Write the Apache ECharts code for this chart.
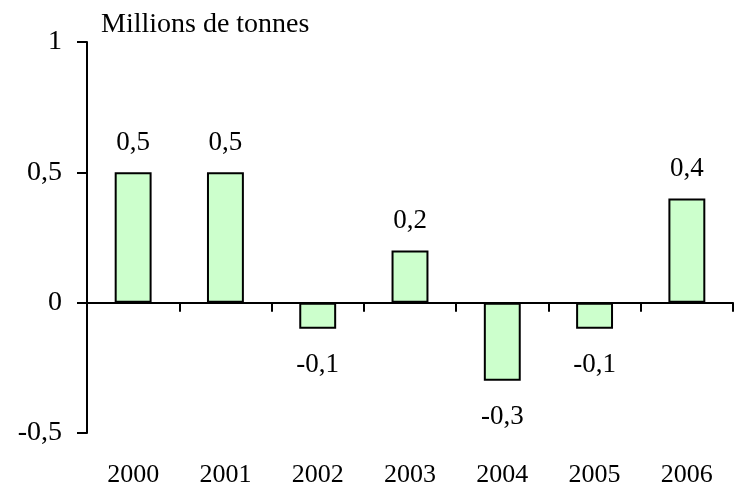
<!DOCTYPE html>
<html>
<head>
<meta charset="utf-8">
<script src="https://cdn.jsdelivr.net/npm/echarts@6/dist/echarts.min.js"></script>
<style>
  html, body { margin: 0; padding: 0; background: #fff; }
  #chart { width: 744px; height: 484px; }
</style>
</head>
<body>
<div id="chart"></div>
<script>
// données du graphique
var years = ['2000', '2001', '2002', '2003', '2004', '2005', '2006'];
var values = [0.5, 0.5, -0.1, 0.2, -0.3, -0.1, 0.4];
var yTicks = [-0.5, 0, 0.5, 1];
var unitLabel = 'Millions de tonnes';

var serif = "'Liberation Serif', 'Times New Roman', serif";

function fr(v) {
  return String(v).replace('.', ',');
}

var chart = echarts.init(document.getElementById('chart'));

var barData = values.map(function (v) {
  return {
    value: v,
    label: { position: v < 0 ? 'bottom' : 'top', distance: v < 0 ? 23 : 16 }
  };
});

chart.setOption({
  animation: false,
  title: {
    text: unitLabel,
    left: 96,
    top: 6,
    textStyle: { fontFamily: serif, fontSize: 28, fontWeight: 'normal', color: '#000' }
  },
  grid: { left: 87, right: 11, top: 42, bottom: 51, containLabel: false, outerBoundsMode: 'none' },
  xAxis: [{
    type: 'category',
    data: years,
    axisLine: { onZero: true, lineStyle: { color: '#000', width: 2 } },
    axisTick: { show: true, inside: false, length: 9, lineStyle: { color: '#000', width: 2 } },
    axisLabel: { show: false }
  }, {
    type: 'category',
    data: years,
    position: 'bottom',
    axisLine: { show: false, onZero: false },
    axisTick: { show: false },
    axisLabel: { margin: 29, fontFamily: serif, fontSize: 26, color: '#000' }
  }],
  yAxis: {
    type: 'value',
    min: yTicks[0],
    max: yTicks[yTicks.length - 1],
    interval: 0.5,
    splitLine: { show: false },
    axisLine: { show: true, lineStyle: { color: '#000', width: 2 } },
    axisTick: { show: true, length: 10, lineStyle: { color: '#000', width: 2 } },
    axisLabel: {
      margin: 25,
      fontFamily: serif,
      fontSize: 28,
      color: '#000',
      formatter: function (v) { return fr(v); }
    }
  },
  series: [{
    type: 'bar',
    xAxisIndex: 0,
    data: barData,
    barWidth: '40%',
    itemStyle: { color: '#CCFFCC', borderColor: '#000', borderWidth: 2 },
    label: {
      show: true,
      fontFamily: serif,
      fontSize: 27,
      color: '#000',
      formatter: function (p) { return fr(p.value); }
    }
  }]
});
</script>
</body>
</html>
